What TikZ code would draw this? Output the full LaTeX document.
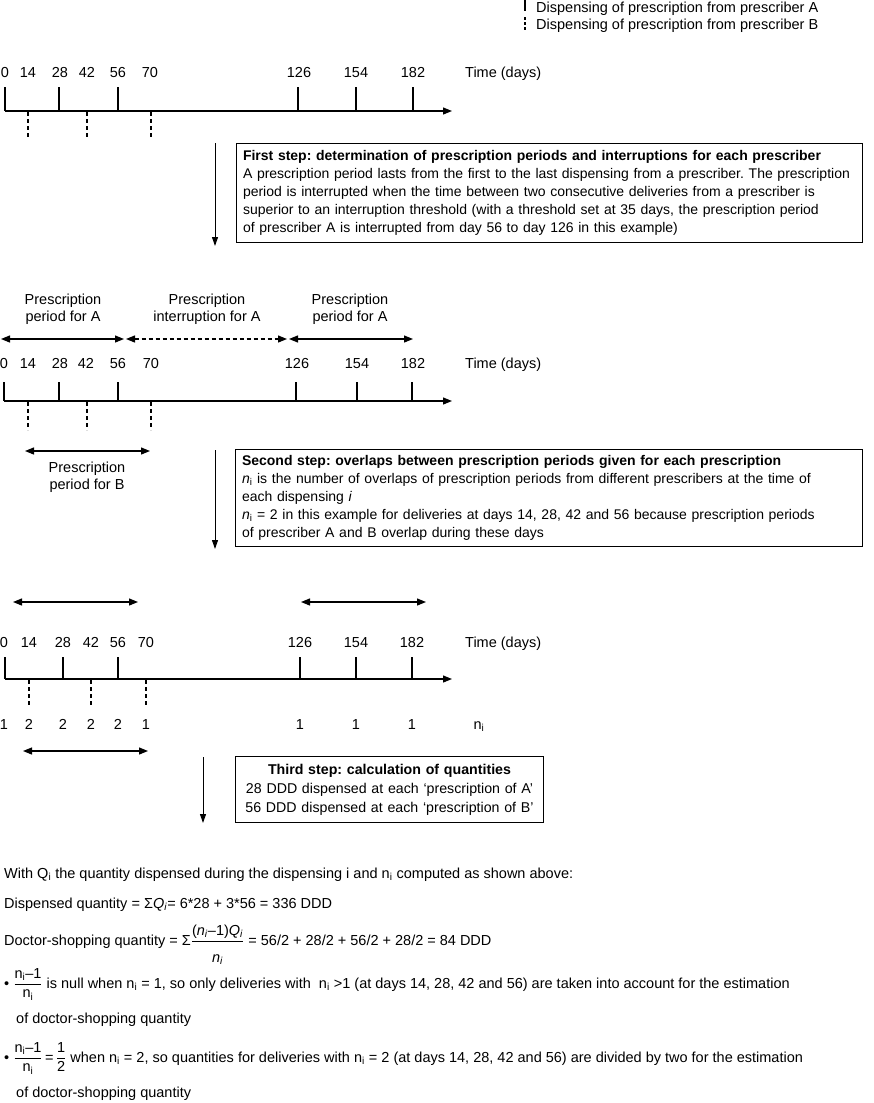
\documentclass[tikz,border=0pt]{standalone}
\usepackage{fontspec}
\setmainfont{Liberation Sans}
\usepackage{amsmath}
\usetikzlibrary{arrows.meta}
\frenchspacing
\begin{document}
\begin{tikzpicture}[x=1pt,y=-1pt,
  every node/.style={font=\fontsize{14.5}{17}\selectfont, inner sep=0pt},
  numlbl/.style={anchor=base},
  axisline/.style={line width=1.2pt, -{Triangle[length=9pt,width=7pt]}},
  ticka/.style={line width=1.2pt},
  tickb/.style={line width=1.2pt, dash pattern=on 4pt off 3pt},
  span/.style={line width=1.2pt, {Triangle[length=9pt,width=7pt]}-{Triangle[length=9pt,width=7pt]}},
  spandash/.style={span, dash pattern=on 4pt off 3pt},
  down/.style={line width=1pt, -{Triangle[length=9pt,width=6pt]}},
  stepbox/.style={draw, line width=1pt, anchor=north west, align=left, inner xsep=6.5pt, inner ysep=0pt},
  twoline/.style={align=center, font=\fontsize{14.5}{17}\selectfont},
]
\useasboundingbox (0,0) rectangle (873,1103);

% legend
\draw[ticka] (525,0) -- (525,11);
\draw[tickb, dash pattern=on 3pt off 2pt] (525,17) -- (525,30);
\node[anchor=base west] (lega) at (536,12) {Dispensing of prescription from prescriber A};
\node[anchor=base west] (legb) at (536,29) {Dispensing of prescription from prescriber B};

% ---------- timeline 1
\foreach \x/\l [count=\k] in {5/0,28/14,60/28,87/42,118/56,150/70,299/126,356/154,413/182}
  \node[numlbl] (oa\k) at (\x,77) {\l};
\node[anchor=base west] (otime) at (465,77) {Time (days)};
\coordinate (o0) at (5,111); \coordinate (oend) at (452,111);
\draw[axisline] (o0) -- (oend);
\foreach \x in {5,59,118,298,356,413} \draw[ticka] (\x,87) -- (\x,111);
\foreach \x in {28,87,151} \draw[tickb] (\x,112) -- (\x,139);

% arrow 1 and box 1
\coordinate (d1s) at (215,143); \coordinate (d1e) at (215,246);
\draw[down] (d1s) -- (d1e);
\node[stepbox, minimum width=626pt, minimum height=99pt, text width=613pt,
  font=\fontsize{14}{18}\selectfont] (box1) at (236,143)
 {\textbf{First step: determination of prescription periods and interruptions for each prescriber}\\
  A prescription period lasts from the first to the last dispensing from a prescriber. The prescription\\
  period is interrupted when the time between two consecutive deliveries from a prescriber is\\
  superior to an interruption threshold (with a threshold set at 35 days, the prescription period\\
  of prescriber A is interrupted from day 56 to day 126 in this example)};

% ---------- timeline 2
\node[twoline] (pa1) at (63,309) {Prescription\\period for A};
\node[twoline] (pia) at (207,309) {Prescription\\interruption for A};
\node[twoline] (pa2) at (350,309) {Prescription\\period for A};
\coordinate (s1a) at (1,339); \coordinate (s1b) at (124,339);
\coordinate (s2a) at (126,339); \coordinate (s2b) at (287,339);
\coordinate (s3a) at (289,339); \coordinate (s3b) at (413,339);
\draw[span] (s1a) -- (s1b);
\draw[spandash] (s2a) -- (s2b);
\draw[span] (s3a) -- (s3b);
\foreach \x/\l [count=\k] in {4/0,28/14,60/28,86/42,118/56,151/70,297/126,357/154,413/182}
  \node[numlbl] (ta\k) at (\x,368) {\l};
\node[anchor=base west] (ttime) at (465,368) {Time (days)};
\coordinate (t0) at (4,401); \coordinate (tend) at (452,401);
\draw[axisline] (t0) -- (tend);
\foreach \x in {4,59,118,296,357} \draw[ticka] (\x,382) -- (\x,401);
\draw[line width=1.8pt] (412,382) -- (412,401);
\foreach \x in {28,87,151} \draw[tickb] (\x,402) -- (\x,430);
\coordinate (sba) at (25,451); \coordinate (sbb) at (150,451);
\draw[span] (sba) -- (sbb);
\node[twoline] (pb) at (87,477) {Prescription\\period for B};

% arrow 2 and box 2
\coordinate (d2s) at (215,450); \coordinate (d2e) at (215,549);
\draw[down] (d2s) -- (d2e);
\node[stepbox, minimum width=627pt, minimum height=97pt, text width=614pt,
  font=\fontsize{14}{18}\selectfont] (box2) at (235,449)
 {\textbf{Second step: overlaps between prescription periods given for each prescription}\\
  \textit{n}\textsubscript{i} is the number of overlaps of prescription periods from different prescribers at the time of\\
  each dispensing \textit{i}\\
  \textit{n}\textsubscript{i} = 2 in this example for deliveries at days 14, 28, 42 and 56 because prescription periods\\
  of prescriber A and B overlap during these days};

% ---------- timeline 3
\coordinate (u1a) at (13,602); \coordinate (u1b) at (138,602);
\coordinate (u2a) at (301,602); \coordinate (u2b) at (426,602);
\draw[span] (u1a) -- (u1b);
\draw[span] (u2a) -- (u2b);
\foreach \x/\l [count=\k] in {4/0,29/14,63/28,91/42,118/56,146/70,300/126,356/154,412/182}
  \node[numlbl] (ha\k) at (\x,647) {\l};
\node[anchor=base west] (htime) at (465,647) {Time (days)};
\coordinate (h0) at (5,679); \coordinate (hend) at (452,679);
\draw[axisline] (h0) -- (hend);
\foreach \x in {5,63,118,300,356} \draw[ticka] (\x,657) -- (\x,679);
\draw[line width=1.8pt] (412,657) -- (412,679);
\foreach \x in {29,91,146} \draw[tickb] (\x,680) -- (\x,707);
\foreach \x/\l [count=\k] in {4/1,29/2,63/2,91/2,118/2,146/1,300/1,356/1,412/1}
  \node[numlbl] (na\k) at (\x,729) {\l};
\node[anchor=base] (nlabel) at (479,729) {n\textsubscript{i}};
\coordinate (v1a) at (23,751); \coordinate (v1b) at (148,751);
\draw[span] (v1a) -- (v1b);

% arrow 3 and box 3
\coordinate (d3s) at (203,757); \coordinate (d3e) at (203,823);
\draw[down] (d3s) -- (d3e);
\node[stepbox, align=center, minimum width=308pt, minimum height=66pt, text width=300pt, inner xsep=4pt,
  font=\fontsize{14.2}{19}\selectfont] (box3) at (235,756)
 {\textbf{Third step: calculation of quantities}\\
  28 DDD dispensed at each ‘prescription of A’\\
  56 DDD dispensed at each ‘prescription of B’};

% ---------- bottom text
\node[anchor=base west] (with) at (4,878) {With Q\textsubscript{i} the quantity dispensed during the dispensing i and n\textsubscript{i} computed as shown above:};
\node[anchor=base west] (disp) at (4,908) {Dispensed quantity = Σ\textit{Q}\textsubscript{\textit{i}}= 6*28 + 3*56 = 336 DDD};
\node[anchor=base west] (doc) at (4,945) {Doctor-shopping quantity = Σ$\dfrac{\text{(\textit{n}\textsubscript{\textit{i}}–1)\textit{Q}\textsubscript{\textit{i}}}\rule[-3pt]{0pt}{3pt}}{\text{\textit{n}\textsubscript{\textit{i}}}\rule{0pt}{19pt}}$ = 56/2 + 28/2 + 56/2 + 28/2 = 84 DDD};
\node[anchor=base west] (b1) at (4,988) {• $\dfrac{\text{n\textsubscript{i}–1}}{\text{n\textsubscript{i}}}$ is null when n\textsubscript{i} = 1, so only deliveries with \ n\textsubscript{i} >1 (at days 14, 28, 42 and 56) are taken into account for the estimation};
\node[anchor=base west] (b1b) at (16,1023) {of doctor-shopping quantity};
\node[anchor=base west] (b2) at (4,1062) {• $\dfrac{\text{n\textsubscript{i}–1}}{\text{n\textsubscript{i}}}\text{\,=\,}\dfrac{\text{1}}{\text{2}}$ when n\textsubscript{i} = 2, so quantities for deliveries with n\textsubscript{i} = 2 (at days 14, 28, 42 and 56) are divided by two for the estimation};
\node[anchor=base west] (b2b) at (16,1097) {of doctor-shopping quantity};
\end{tikzpicture}
\end{document}
